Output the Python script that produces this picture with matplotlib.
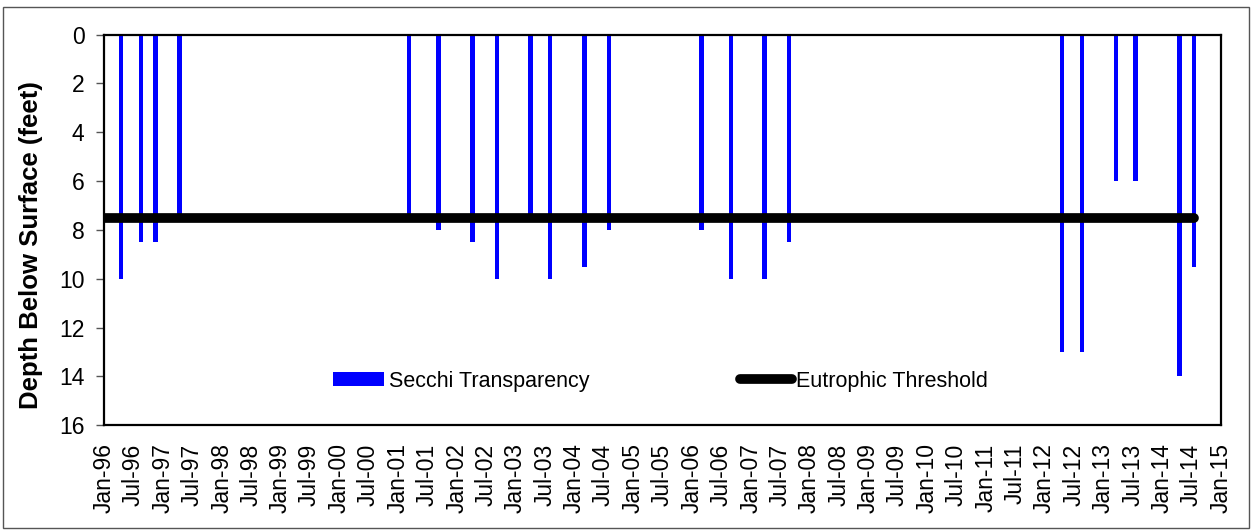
import numpy as np
import pandas as pd
import matplotlib
matplotlib.use('Agg')
import matplotlib.pyplot as plt
import matplotlib.dates as mdates
from matplotlib.patches import Rectangle, Patch
from matplotlib.lines import Line2D

### Sample dates and Secchi depths (feet)
sample_dates = ['1996-04-15', '1996-08-18', '1996-11-17', '1997-04-15',
                '2001-03-10', '2001-09-08', '2002-04-09', '2002-09-07',
                '2003-04-05', '2003-08-04', '2004-03-05', '2004-08-03',
                '2006-03-02', '2006-08-31', '2007-03-29', '2007-08-27',
                '2012-04-19', '2012-08-19', '2013-03-21', '2013-07-19',
                '2014-04-17', '2014-07-16']
secchi_depth = [10, 8.5, 8.5, 7.5,
                7.5, 8, 8.5, 10,
                7.5, 10, 9.5, 8,
                8, 10, 10, 8.5,
                13, 13, 6, 6,
                14, 9.5]

### Eutrophic threshold runs from start of record to last sample
threshold_dates = ['1996-01-01', '2014-07-16']
threshold_depth = [7.5, 7.5]

y_ticks = [0, 2, 4, 6, 8, 10, 12, 14, 16]

plt.rcParams['font.family'] = ['Liberation Sans', 'DejaVu Sans']

dates = pd.to_datetime(sample_dates)
tdates = pd.to_datetime(threshold_dates)

fig = plt.figure(figsize=(12.54, 5.31), dpi=100)
ax = fig.add_axes([0.0829, 0.199, 0.9737 - 0.0829, 0.935 - 0.199])

ax.bar(dates, secchi_depth, width=28, color='#0000FF', zorder=2)
ax.plot(tdates, threshold_depth, color='black', lw=7, solid_capstyle='round', zorder=3)

ax.set_xlim(pd.Timestamp('1996-01-01'), pd.Timestamp('2015-01-01'))
ax.set_ylim(16, 0)
ax.set_yticks(y_ticks)

ax.xaxis.set_major_locator(mdates.MonthLocator(bymonth=[1, 7]))
ax.xaxis.set_major_formatter(mdates.DateFormatter('%b-%y'))
ax.tick_params(axis='x', length=0, pad=13, labelsize=16.5, labelrotation=90)
ax.tick_params(axis='y', length=6, width=1, color='#555555', pad=8, labelsize=16.5)

for s in ax.spines.values():
    s.set_linewidth(1.6)
    s.set_color('black')

ax.set_ylabel('Depth Below Surface (feet)', fontsize=18.5, fontweight='bold')
ax.yaxis.set_label_coords(-0.055, 0.46)

### Legend without a frame, two columns inside the plot
handles = [Patch(facecolor='#0000FF', edgecolor='none'),
           Line2D([0], [0], color='black', lw=7, solid_capstyle='round')]
ax.legend(handles, ['Secchi Transparency', 'Eutrophic Threshold'],
          loc='center', bbox_to_anchor=(0.498, 0.113), ncol=2, frameon=False,
          fontsize=15.5, handlelength=2.4, handleheight=0.6, handletextpad=0.2,
          columnspacing=7.0)

### Thin border round the whole chart
fig.patches.append(Rectangle((3/1254, 3/531), 1246/1254, 521/531,
                             transform=fig.transFigure, fill=False,
                             edgecolor='#555555', lw=1))

fig.savefig('out.png', dpi=100)
